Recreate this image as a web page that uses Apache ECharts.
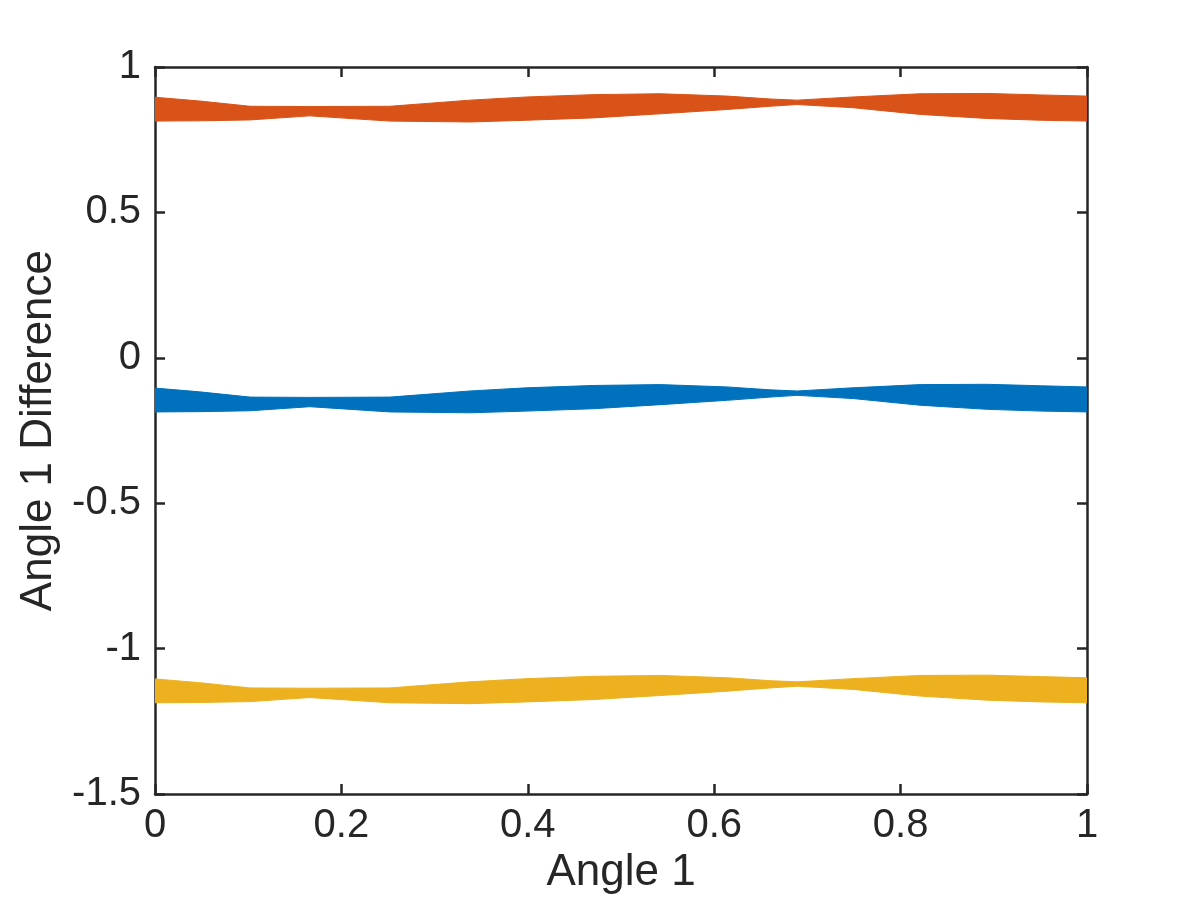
<!DOCTYPE html>
<html>
<head>
<meta charset="utf-8">
<script src="https://cdn.jsdelivr.net/npm/echarts@6/dist/echarts.min.js"></script>
<style>html,body{margin:0;padding:0;background:#fff}#c{width:1200px;height:900px}</style>
</head>
<body>
<div id="c"></div>
<script>
const xs = [0, 0.048, 0.102, 0.166, 0.252, 0.338, 0.399, 0.470, 0.542, 0.614, 0.660, 0.689, 0.749, 0.821, 0.893, 0.950, 1.0];

const orangeHi = [0.896, 0.883, 0.865, 0.864, 0.865, 0.886, 0.897, 0.905, 0.908, 0.900, 0.890, 0.886, 0.897, 0.908, 0.909, 0.904, 0.900];
const orangeLo = [0.814, 0.815, 0.818, 0.832, 0.814, 0.811, 0.817, 0.825, 0.839, 0.854, 0.865, 0.871, 0.860, 0.837, 0.823, 0.817, 0.814];

const blueHi = [-0.104, -0.117, -0.135, -0.136, -0.135, -0.114, -0.103, -0.095, -0.092, -0.100, -0.110, -0.114, -0.103, -0.092, -0.091, -0.096, -0.100];
const blueLo = [-0.186, -0.185, -0.182, -0.168, -0.186, -0.189, -0.183, -0.175, -0.161, -0.146, -0.135, -0.129, -0.140, -0.163, -0.177, -0.183, -0.186];

const yellowHi = [-1.104, -1.117, -1.135, -1.136, -1.135, -1.114, -1.103, -1.095, -1.092, -1.100, -1.110, -1.114, -1.103, -1.092, -1.091, -1.096, -1.100];
const yellowLo = [-1.186, -1.185, -1.182, -1.168, -1.186, -1.189, -1.183, -1.175, -1.161, -1.146, -1.135, -1.129, -1.140, -1.163, -1.177, -1.183, -1.186];

const xTicks = [0, 0.2, 0.4, 0.6, 0.8, 1];
const yTicks = [-1.5, -1, -0.5, 0, 0.5, 1];

const colors = { blue: '#0072BD', orange: '#D95319', yellow: '#EDB120' };

const FONT = 'Liberation Sans, Arial, Helvetica, sans-serif';
const AX = '#262626';

function band(name, lo, hi, color) {
  return {
    name: name, type: 'custom', clip: true, silent: true,
    data: [[xs[0], lo[0]]],
    encode: { x: 0, y: 1 },
    renderItem: function (params, api) {
      const pts = [];
      for (let i = 0; i < xs.length; i++) pts.push(api.coord([xs[i], hi[i]]));
      for (let i = xs.length - 1; i >= 0; i--) pts.push(api.coord([xs[i], lo[i]]));
      return {
        type: 'polygon',
        shape: { points: pts },
        style: { fill: color, stroke: color, lineWidth: 1 }
      };
    }
  };
}

const axisLine = { show: true, onZero: false, lineStyle: { color: AX, width: 2.5 } };
const axisTick = { show: true, inside: true, length: 10, lineStyle: { color: AX, width: 2.5 } };

const chart = echarts.init(document.getElementById('c'), null, { renderer: 'canvas' });
chart.setOption({
  animation: false,
  backgroundColor: '#fff',
  grid: { left: 155, right: 113, top: 67, bottom: 103, containLabel: false },
  xAxis: [
    { type: 'value', min: xTicks[0], max: xTicks[xTicks.length - 1], interval: 0.2, position: 'bottom',
      name: 'Angle 1', nameLocation: 'middle', nameGap: 56,
      nameTextStyle: { fontFamily: FONT, fontSize: 44, color: AX },
      axisLine: axisLine, axisTick: axisTick, splitLine: { show: false },
      axisLabel: { fontFamily: FONT, fontSize: 40, color: AX, margin: 12 } },
    { type: 'value', min: xTicks[0], max: xTicks[xTicks.length - 1], interval: 0.2, position: 'top',
      axisLine: axisLine, axisTick: axisTick, splitLine: { show: false }, axisLabel: { show: false } }
  ],
  yAxis: [
    { type: 'value', min: yTicks[0], max: yTicks[yTicks.length - 1], interval: 0.5, position: 'left',
      name: 'Angle 1 Difference', nameLocation: 'middle', nameGap: 92,
      nameTextStyle: { fontFamily: FONT, fontSize: 44, color: AX },
      axisLine: axisLine, axisTick: axisTick, splitLine: { show: false },
      axisLabel: { fontFamily: FONT, fontSize: 40, color: AX, margin: 14 } },
    { type: 'value', min: yTicks[0], max: yTicks[yTicks.length - 1], interval: 0.5, position: 'right',
      axisLine: axisLine, axisTick: axisTick, splitLine: { show: false }, axisLabel: { show: false } }
  ],
  series: [
    band('blue', blueLo, blueHi, colors.blue),
    band('orange', orangeLo, orangeHi, colors.orange),
    band('yellow', yellowLo, yellowHi, colors.yellow)
  ]
});
</script>
</body>
</html>
